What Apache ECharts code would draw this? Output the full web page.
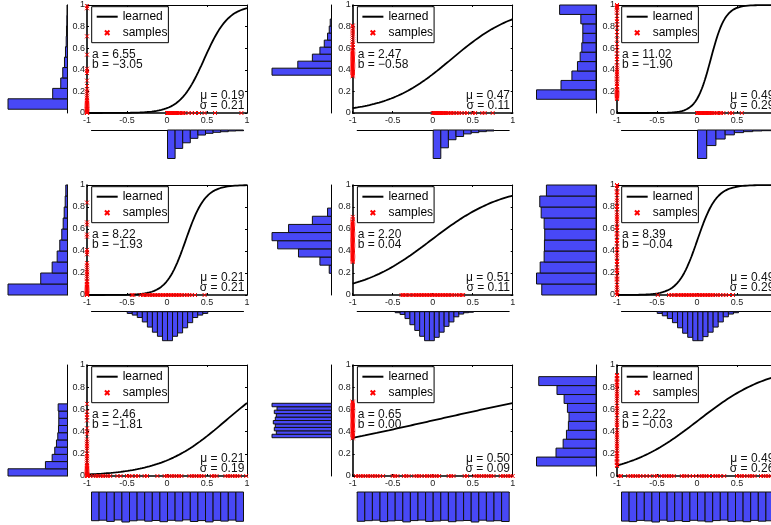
<!DOCTYPE html>
<html>
<head>
<meta charset="utf-8">
<script src="https://cdn.jsdelivr.net/npm/echarts@6/dist/echarts.min.js"></script>
<style>
  html, body { margin: 0; padding: 0; background: #fff; }
  #chart { width: 771px; height: 525px; }
</style>
</head>
<body>
<div id="chart"></div>
<script>
// Fitted sigmoid parameters and output statistics, one entry per panel (row by row)
const aValues = [6.55, 2.47, 11.02, 8.22, 2.20, 8.39, 2.46, 0.65, 2.22];
const bValues = [-3.05, -0.58, -1.90, -1.93, 0.04, -0.04, -1.81, 0.00, -0.03];
const muValues = [0.19, 0.47, 0.49, 0.21, 0.51, 0.49, 0.21, 0.50, 0.49];
const sigmaValues = [0.21, 0.11, 0.29, 0.21, 0.11, 0.29, 0.19, 0.09, 0.26];

// Input samples (drawn on the x axis)
const inputSamples1 = [0.00, 0.01, 0.015, 0.02, 0.03, 0.035, 0.04, 0.05, 0.06, 0.07, 0.08, 0.09, 0.10, 0.11, 0.12, 0.13, 0.15, 0.16, 0.18, 0.20, 0.22, 0.27, 0.31, 0.35, 0.40, 0.47, 0.60, 0.93];
const inputSamples2 = [0.00, 0.01, 0.02, 0.03, 0.04, 0.05, 0.06, 0.07, 0.08, 0.09, 0.10, 0.11, 0.12, 0.13, 0.14, 0.16, 0.17, 0.19, 0.21, 0.23, 0.25, 0.27, 0.30, 0.33, 0.36, 0.40, 0.43, 0.50, 0.53, 0.62, 0.65, 0.75];
const inputSamples3 = [0.00, 0.01, 0.02, 0.03, 0.04, 0.05, 0.06, 0.07, 0.08, 0.09, 0.10, 0.11, 0.12, 0.13, 0.14, 0.15, 0.16, 0.17, 0.19, 0.21, 0.23, 0.25, 0.28, 0.30, 0.33, 0.41, 0.44, 0.56];
const inputSamples4 = [-0.44, -0.42, -0.33, -0.30, -0.28, -0.25, -0.23, -0.21, -0.19, -0.17, -0.15, -0.13, -0.11, -0.09, -0.07, -0.05, -0.03, -0.01, 0.01, 0.03, 0.05, 0.07, 0.09, 0.11, 0.13, 0.15, 0.17, 0.19, 0.22, 0.25, 0.28, 0.31, 0.35, 0.47];
const inputSamples5 = [-0.39, -0.37, -0.35, -0.33, -0.30, -0.28, -0.25, -0.23, -0.21, -0.19, -0.17, -0.15, -0.13, -0.11, -0.09, -0.07, -0.05, -0.03, -0.01, 0.01, 0.03, 0.05, 0.07, 0.09, 0.11, 0.13, 0.15, 0.17, 0.19, 0.21, 0.24, 0.27, 0.30, 0.33, 0.36, 0.38];
const inputSamples6 = [-0.49, -0.35, -0.32, -0.29, -0.27, -0.24, -0.22, -0.20, -0.18, -0.16, -0.14, -0.12, -0.10, -0.08, -0.06, -0.04, -0.02, 0.00, 0.02, 0.04, 0.06, 0.08, 0.10, 0.12, 0.14, 0.16, 0.18, 0.20, 0.23, 0.26, 0.29, 0.33, 0.36, 0.40, 0.45];
const inputSamples7 = [-0.99, -0.96, -0.92, -0.89, -0.86, -0.83, -0.80, -0.77, -0.74, -0.71, -0.62, -0.58, -0.50, -0.47, -0.44, -0.39, -0.36, -0.28, -0.25, -0.12, -0.03, 0.00, 0.03, 0.06, 0.09, 0.12, 0.15, 0.18, 0.28, 0.31, 0.34, 0.37, 0.40, 0.43, 0.46, 0.56, 0.59, 0.62, 0.73, 0.76, 0.79, 0.82, 0.85, 0.88, 0.91, 0.99];
const inputSamples8 = [-0.96, -0.93, -0.90, -0.87, -0.84, -0.81, -0.78, -0.75, -0.72, -0.69, -0.66, -0.62, -0.50, -0.47, -0.44, -0.36, -0.33, -0.30, -0.23, -0.20, -0.17, -0.14, -0.10, -0.07, -0.04, -0.01, 0.02, 0.05, 0.08, 0.20, 0.23, 0.26, 0.40, 0.43, 0.52, 0.55, 0.58, 0.61, 0.64, 0.67, 0.70, 0.73, 0.76, 0.85, 0.88, 0.91, 0.94, 0.97, 1.00];
const inputSamples9 = [-0.97, -0.95, -0.86, -0.83, -0.80, -0.77, -0.74, -0.71, -0.67, -0.63, -0.59, -0.53, -0.50, -0.44, -0.41, -0.38, -0.35, -0.32, -0.29, -0.19, -0.16, -0.13, -0.09, -0.05, -0.01, 0.03, 0.06, 0.09, 0.12, 0.15, 0.20, 0.23, 0.26, 0.29, 0.34, 0.50, 0.53, 0.56, 0.59, 0.63, 0.66, 0.69, 0.72, 0.80, 0.83, 0.86, 0.89, 0.92, 0.95, 0.98];

// Output samples (drawn on the y axis at x = -1)
const outputSamples1 = [0.00, 0.005, 0.01, 0.015, 0.02, 0.03, 0.035, 0.04, 0.05, 0.06, 0.07, 0.08, 0.09, 0.10, 0.11, 0.12, 0.14, 0.16, 0.18, 0.20, 0.22, 0.25, 0.30, 0.37, 0.39, 0.41, 0.54, 0.71, 0.97, 0.99];
const outputSamples2 = [0.34, 0.35, 0.36, 0.37, 0.38, 0.39, 0.40, 0.41, 0.42, 0.43, 0.44, 0.45, 0.46, 0.47, 0.48, 0.49, 0.50, 0.51, 0.52, 0.53, 0.54, 0.55, 0.56, 0.57, 0.58, 0.60, 0.61, 0.63, 0.64, 0.66, 0.68, 0.70, 0.72, 0.74, 0.76, 0.78, 0.80, 0.81];
const outputSamples3 = [0.13, 0.14, 0.15, 0.16, 0.17, 0.18, 0.19, 0.20, 0.21, 0.22, 0.24, 0.25, 0.27, 0.29, 0.31, 0.32, 0.34, 0.36, 0.38, 0.40, 0.42, 0.44, 0.47, 0.50, 0.52, 0.55, 0.58, 0.61, 0.64, 0.68, 0.72, 0.75, 0.79, 0.82, 0.85, 0.87, 0.90, 0.93, 0.95, 0.97, 0.98, 0.99, 1.00];
const outputSamples4 = [0.00, 0.005, 0.01, 0.015, 0.02, 0.03, 0.04, 0.05, 0.06, 0.07, 0.08, 0.09, 0.10, 0.12, 0.13, 0.15, 0.17, 0.19, 0.21, 0.23, 0.25, 0.27, 0.29, 0.37, 0.39, 0.41, 0.53, 0.55, 0.64, 0.66, 0.84];
const outputSamples5 = [0.30, 0.31, 0.32, 0.33, 0.34, 0.35, 0.36, 0.37, 0.38, 0.39, 0.40, 0.41, 0.42, 0.43, 0.44, 0.45, 0.46, 0.47, 0.48, 0.49, 0.50, 0.51, 0.52, 0.53, 0.54, 0.55, 0.56, 0.57, 0.58, 0.59, 0.60, 0.61, 0.62, 0.63, 0.64, 0.65, 0.66, 0.67, 0.69, 0.71];
const outputSamples6 = [0.00, 0.02, 0.03, 0.05, 0.07, 0.09, 0.12, 0.14, 0.15, 0.17, 0.20, 0.22, 0.23, 0.25, 0.28, 0.30, 0.31, 0.34, 0.36, 0.38, 0.41, 0.42, 0.44, 0.47, 0.49, 0.50, 0.53, 0.55, 0.56, 0.59, 0.61, 0.62, 0.65, 0.67, 0.69, 0.71, 0.73, 0.75, 0.78, 0.80, 0.81, 0.84, 0.86, 0.88, 0.91, 0.93, 0.94, 0.97, 0.99, 1.00];
const outputSamples7 = [0.00, 0.005, 0.01, 0.015, 0.02, 0.03, 0.04, 0.05, 0.06, 0.07, 0.08, 0.09, 0.10, 0.12, 0.14, 0.16, 0.18, 0.20, 0.23, 0.25, 0.27, 0.29, 0.31, 0.33, 0.38, 0.40, 0.43, 0.50, 0.53, 0.55, 0.58, 0.65];
const outputSamples8 = [0.34, 0.35, 0.36, 0.37, 0.38, 0.39, 0.40, 0.41, 0.42, 0.43, 0.44, 0.45, 0.46, 0.47, 0.48, 0.49, 0.50, 0.51, 0.52, 0.53, 0.54, 0.55, 0.56, 0.57, 0.58, 0.59, 0.60, 0.61, 0.62, 0.63, 0.64, 0.65, 0.66, 0.67];
const outputSamples9 = [0.09, 0.10, 0.12, 0.13, 0.15, 0.16, 0.18, 0.20, 0.21, 0.23, 0.25, 0.27, 0.29, 0.31, 0.33, 0.35, 0.37, 0.39, 0.41, 0.44, 0.46, 0.48, 0.50, 0.52, 0.55, 0.57, 0.59, 0.61, 0.63, 0.66, 0.68, 0.70, 0.72, 0.74, 0.76, 0.78, 0.80, 0.82, 0.84, 0.85, 0.87, 0.88, 0.90, 0.91];

// Input histograms: value range [lo, hi] split into equal bins, and bin counts
const inputHistRange = [[0, 1.0], [0, 0.8], [0, 0.97], [-0.53, 0.53], [-0.5, 0.53], [-0.53, 0.54], [-1, 1], [-1, 1], [-1, 1]];
const inputHist1 = [283, 183, 127, 83, 50, 33, 23, 17, 10, 7];
const inputHist2 = [293, 183, 100, 67, 40, 27, 17, 10];
const inputHist3 = [293, 160, 93, 50, 27, 17, 10, 7];
const inputHist4 = [17, 33, 57, 100, 150, 200, 240, 283, 283, 240, 207, 157, 107, 57, 33, 17];
const inputHist5 = [10, 27, 67, 127, 183, 240, 283, 283, 250, 200, 143, 100, 50, 23, 10, 5];
const inputHist6 = [17, 40, 67, 107, 157, 210, 250, 283, 283, 243, 200, 150, 100, 50, 23, 10];
const inputHist7 = [285, 280, 292, 278, 298, 286, 279, 290, 283, 295, 281, 288, 277, 293, 284, 297, 282, 289, 279, 291];
const inputHist8 = [290, 284, 279, 293, 286, 281, 296, 283, 278, 291, 287, 280, 294, 285, 282, 297, 279, 288, 284, 292];
const inputHist9 = [288, 293, 281, 286, 297, 279, 290, 284, 292, 280, 287, 295, 283, 278, 291, 286, 294, 281, 289, 285];

// Output histograms (bins listed from low to high value)
const outputHistRange = [[0.035, 1.0], [0.35, 0.87], [0.127, 1.0], [0, 1], [0.197, 0.79], [0, 1], [0, 0.65], [0.345, 0.655], [0.09, 0.895]];
const outputHist1 = [590, 147, 67, 47, 30, 20, 13, 10, 7, 5];
const outputHist2 = [600, 340, 193, 117, 73, 40, 23, 13];
const outputHist3 = [600, 353, 243, 187, 160, 143, 133, 133, 153, 367];
const outputHist4 = [593, 267, 153, 103, 77, 57, 43, 33, 23, 17];
const outputHist5 = [23, 117, 333, 543, 600, 433, 193, 40];
const outputHist6 = [547, 600, 563, 523, 520, 517, 523, 553, 567, 500];
const outputHist7 = [593, 220, 153, 127, 110, 97, 90, 87, 87, 93];
const outputHist8 = [593, 550, 570, 560, 580, 560, 550, 570, 543, 593];
const outputHist9 = [610, 410, 337, 303, 283, 277, 293, 327, 400, 587];

const inputSamples = [inputSamples1, inputSamples2, inputSamples3, inputSamples4, inputSamples5, inputSamples6, inputSamples7, inputSamples8, inputSamples9];
const outputSamples = [outputSamples1, outputSamples2, outputSamples3, outputSamples4, outputSamples5, outputSamples6, outputSamples7, outputSamples8, outputSamples9];
const inputHists = [inputHist1, inputHist2, inputHist3, inputHist4, inputHist5, inputHist6, inputHist7, inputHist8, inputHist9];
const outputHists = [outputHist1, outputHist2, outputHist3, outputHist4, outputHist5, outputHist6, outputHist7, outputHist8, outputHist9];

// ---- layout ----
const FONT = '"Liberation Sans", Arial, Helvetica, sans-serif';
const MAIN_LEFT = [87, 352.7, 617];
const MAIN_TOP = [5, 185, 365];
const MAIN_H = [108, 110, 111];
const MAIN_W = 160;
const LHIST_RIGHT = [67.5, 331.5, 596];
const LHIST_W = 59.5;
const BHIST_GAP = [17, 16.7, 16];
const BHIST_H = [28.5, 29, 30];
const BAR_FILL = '#4848f6';
const BAR_EDGE = '#111';
const CROSS = 'path://M0,0L10,10M10,0L0,10';

function fmt(v) {
  return (v < 0 ? '\u2212' : '') + Math.abs(v).toFixed(2);
}

function toBins(range, counts) {
  const w = (range[1] - range[0]) / counts.length;
  return counts.map((n, i) => [range[0] + i * w, range[0] + (i + 1) * w, n]);
}

// learned mapping y = 1 / (1 + exp(-(a x + b))) sampled across the x range
function sigmoidCurve(a, b) {
  const pts = [];
  for (let i = 0; i <= 200; i++) {
    const x = -1 + i * 0.01;
    pts.push([x, 1 / (1 + Math.exp(-(a * x + b)))]);
  }
  return pts;
}

function rectBetween(p, q) {
  return {
    x: Math.min(p[0], q[0]), y: Math.min(p[1], q[1]),
    width: Math.abs(q[0] - p[0]), height: Math.abs(q[1] - p[1])
  };
}

function leftBar(params, api) {
  const p = api.coord([api.value(2), api.value(1)]);
  const q = api.coord([0, api.value(0)]);
  return { type: 'rect', shape: rectBetween(p, q), style: { fill: BAR_FILL, stroke: BAR_EDGE, lineWidth: 1 } };
}

function bottomBar(params, api) {
  const p = api.coord([api.value(0), 0]);
  const q = api.coord([api.value(1), api.value(2)]);
  return { type: 'rect', shape: rectBetween(p, q), style: { fill: BAR_FILL, stroke: BAR_EDGE, lineWidth: 1 } };
}

const grids = [], xAxes = [], yAxes = [], series = [], legends = [], graphics = [];

function frameAxis(extra) {
  return Object.assign({
    type: 'value',
    splitLine: { show: false },
    axisLine: { show: true, onZero: false, lineStyle: { color: '#000', width: 1 } },
    axisTick: { show: true, inside: true, length: 2, lineStyle: { color: '#000', width: 1 } },
    axisLabel: { show: false }
  }, extra);
}

for (let p = 0; p < 9; p++) {
  const r = Math.floor(p / 3), c = p % 3;
  const L = MAIN_LEFT[c], T = MAIN_TOP[r], H = MAIN_H[r];

  // main plot
  const gMain = grids.length;
  grids.push({ left: L, top: T, width: MAIN_W, height: H, containLabel: false, outerBoundsMode: 'none' });
  const xMain = xAxes.length;
  xAxes.push(frameAxis({
    gridIndex: gMain, min: -1, max: 1, interval: 0.5, position: 'bottom',
    axisLine: { show: true, onZero: false, lineStyle: { color: '#000', width: 1.6 } },
    axisLabel: { show: true, fontSize: 9, color: '#222', margin: 3, fontFamily: FONT }
  }));
  xAxes.push(frameAxis({ gridIndex: gMain, min: -1, max: 1, interval: 0.5, position: 'top' }));
  const yMain = yAxes.length;
  yAxes.push(frameAxis({
    gridIndex: gMain, min: 0, max: 1, interval: 0.2, position: 'left',
    axisLine: { show: true, onZero: false, lineStyle: { color: '#000', width: 1.6 } },
    axisLabel: { show: true, fontSize: 9, color: '#222', margin: 2, fontFamily: FONT }
  }));
  yAxes.push(frameAxis({ gridIndex: gMain, min: 0, max: 1, interval: 0.2, position: 'right' }));

  series.push({
    name: 'learned', type: 'line', xAxisIndex: xMain, yAxisIndex: yMain,
    data: sigmoidCurve(aValues[p], bValues[p]),
    symbol: 'none', smooth: false, silent: true, z: 3,
    lineStyle: { color: '#000', width: 1.8 }, itemStyle: { color: '#000' }
  });
  const pts = inputSamples[p].map(x => [x, 0]).concat(outputSamples[p].map(y => [-1, y]));
  series.push({
    name: 'samples', type: 'scatter', xAxisIndex: xMain, yAxisIndex: yMain,
    data: pts, symbol: CROSS, symbolSize: 4, clip: false, silent: true, z: 4,
    itemStyle: { color: '#ff0000', borderColor: '#ff0000', borderWidth: 1, opacity: 1 }
  });

  legends.push({
    left: L + 4.7, top: T + 1.7, orient: 'vertical', selectedMode: false,
    data: [{ name: 'learned', itemStyle: { opacity: 0 } }, { name: 'samples' }],
    itemWidth: 21, itemHeight: 4.5, itemGap: 2,
    padding: [3, 1, 3, 4],
    backgroundColor: '#fff', borderColor: '#000', borderWidth: 1,
    textStyle: { fontSize: 12, fontFamily: FONT, color: '#000', lineHeight: 14 }
  });

  // parameter annotations
  const txt = (text, x, y, align) => ({
    type: 'text', x: x, y: y, silent: true, z: 10,
    style: { text: text, fontSize: 12, fontFamily: FONT, fill: '#111', align: align, verticalAlign: 'middle' }
  });
  graphics.push(txt('a = ' + fmt(aValues[p]), L + 5, T + 49.5, 'left'));
  graphics.push(txt('b = ' + fmt(bValues[p]), L + 5, T + 60, 'left'));
  graphics.push(txt('\u03bc = ' + fmt(muValues[p]), L + MAIN_W - 2.7, T + H - 17, 'right'));
  graphics.push(txt('\u03c3 = ' + fmt(sigmaValues[p]), L + MAIN_W - 2.7, T + H - 7, 'right'));

  // output histogram (left, bars grow leftwards)
  const gLeft = grids.length;
  grids.push({ left: LHIST_RIGHT[c] - LHIST_W, top: T, width: LHIST_W, height: H, containLabel: false, outerBoundsMode: 'none' });
  const outMax = Math.max.apply(null, outputHists[p]);
  const xLeft = xAxes.length;
  xAxes.push({ gridIndex: gLeft, type: 'value', min: 0, max: outMax, inverse: true, show: false });
  const yLeft = yAxes.length;
  yAxes.push(frameAxis({ gridIndex: gLeft, min: 0, max: 1, position: 'right', axisTick: { show: false } }));
  series.push({
    type: 'custom', xAxisIndex: xLeft, yAxisIndex: yLeft, silent: true, clip: false,
    encode: { x: 2, y: [0, 1] },
    data: toBins(outputHistRange[p], outputHists[p]), renderItem: leftBar
  });

  // input histogram (below, bars hang downwards)
  const gBottom = grids.length;
  grids.push({ left: L + 4.5, top: T + H + BHIST_GAP[r], width: 152, height: BHIST_H[r], containLabel: false, outerBoundsMode: 'none' });
  const inMax = Math.max.apply(null, inputHists[p]);
  const xBottom = xAxes.length;
  xAxes.push(frameAxis({ gridIndex: gBottom, min: -1, max: 1, position: 'top', axisTick: { show: false } }));
  const yBottom = yAxes.length;
  yAxes.push({ gridIndex: gBottom, type: 'value', min: 0, max: inMax, inverse: true, show: false });
  series.push({
    type: 'custom', xAxisIndex: xBottom, yAxisIndex: yBottom, silent: true, clip: false,
    encode: { x: [0, 1], y: 2 },
    data: toBins(inputHistRange[p], inputHists[p]), renderItem: bottomBar
  });
}

const chart = echarts.init(document.getElementById('chart'), null, { renderer: 'canvas' });
chart.setOption({
  backgroundColor: '#fff',
  animation: false,
  grid: grids,
  xAxis: xAxes,
  yAxis: yAxes,
  legend: legends,
  series: series,
  graphic: graphics
});
</script>
</body>
</html>
